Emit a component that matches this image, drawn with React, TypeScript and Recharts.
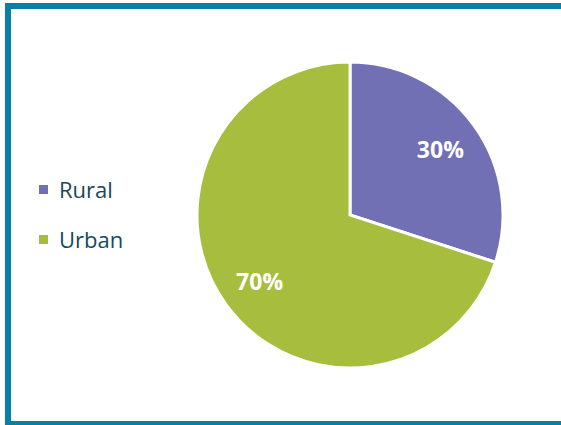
import React from "react";
import { PieChart, Pie, Cell, Legend } from "recharts";

const categories = ["Rural", "Urban"];
const shares = [30, 70];
const colors = ["#7170b5", "#a7bd3d"];

const data = categories.map((name, i) => ({ name, value: shares[i] }));

const RADIAN = Math.PI / 180;

const renderLabel = ({ cx, cy, midAngle, outerRadius, value }: any) => {
  const r = outerRadius * 0.73;
  const x = cx + r * Math.cos(-midAngle * RADIAN);
  const y = cy + r * Math.sin(-midAngle * RADIAN);
  return (
    <text
      x={x}
      y={y}
      fill="#ffffff"
      textAnchor="middle"
      dominantBaseline="central"
      fontFamily="Open Sans"
      fontWeight="bold"
      fontSize={23}
    >
      {value}%
    </text>
  );
};

const LegendBox = () => (
  <div style={{ fontFamily: "Open Sans", fontSize: 22, color: "#17485a" }}>
    {data.map((d, i) => (
      <div
        key={d.name}
        style={{ display: "flex", alignItems: "center", height: 50 }}
      >
        <span
          style={{
            display: "inline-block",
            width: 9,
            height: 9,
            background: colors[i],
            marginRight: 11,
          }}
        />
        {d.name}
      </div>
    ))}
  </div>
);

export default function App() {
  return (
    <div
      style={{
        position: "absolute",
        left: 0,
        top: 0,
        width: 561,
        height: 425,
        overflow: "hidden",
        background: "#ffffff",
      }}
    >
      <div
        style={{
          position: "absolute",
          left: 5,
          top: 3,
          width: 620,
          height: 424,
          border: "6px solid #0a7fa6",
          boxSizing: "border-box",
        }}
      />
      <PieChart
        width={561}
        height={425}
        margin={{ top: 0, right: 0, bottom: 0, left: 0 }}
      >
        <Pie
          data={data}
          dataKey="value"
          nameKey="name"
          cx={350}
          cy={215}
          outerRadius={153}
          startAngle={90}
          endAngle={-270}
          stroke="#ffffff"
          strokeWidth={3}
          label={renderLabel}
          labelLine={false}
          isAnimationActive={false}
        >
          {data.map((d, i) => (
            <Cell key={d.name} fill={colors[i]} />
          ))}
        </Pie>
        <Legend
          layout="vertical"
          content={<LegendBox />}
          wrapperStyle={{ left: 39, top: 164, width: 150 }}
        />
      </PieChart>
    </div>
  );
}
